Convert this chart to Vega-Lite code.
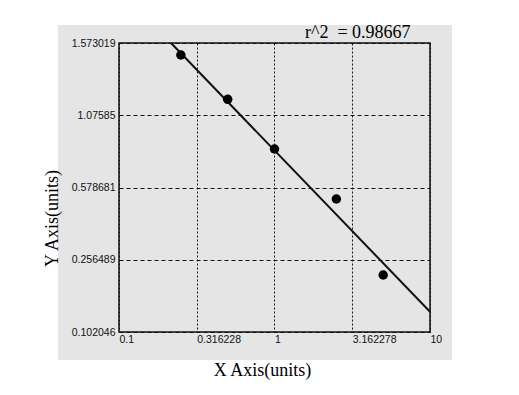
{
  "$schema": "https://vega.github.io/schema/vega-lite/v6.json",
  "width": 311,
  "height": 289,
  "autosize": "none",
  "padding": {"left": 119, "top": 43, "right": 89, "bottom": 63},
  "background": "white",
  "config": {"view": {"stroke": null}},
  "title": {
    "text": "r^2\u00a0 = 0.98667",
    "anchor": "start",
    "frame": "group",
    "dx": 186,
    "offset": -31,
    "baseline": "alphabetic",
    "font": "Liberation Serif",
    "fontSize": 18,
    "fontWeight": "normal",
    "color": "black"
  },
  "datasets": {
    "panel": [
      {"part": "background", "x1": 0.0405, "x2": 13.85, "y1": 0.0422, "y2": 1.6968},
      {"part": "frame", "x1": 0.1, "x2": 10, "y1": 0.102046, "y2": 1.573019}
    ],
    "points": [
      {"x": 0.25, "y": 1.4905},
      {"x": 0.5, "y": 1.1857},
      {"x": 1, "y": 0.8437},
      {"x": 2.5, "y": 0.5274},
      {"x": 5, "y": 0.2239}
    ],
    "fit": [
      {"x": 0.216, "y": 1.573019},
      {"x": 10, "y": 0.1454}
    ]
  },
  "layer": [
    {
      "data": {"name": "panel"},
      "transform": [{"filter": "datum.part === 'background'"}],
      "mark": {"type": "rect", "fill": "#e5e5e5", "clip": false},
      "encoding": {
        "x": {
          "field": "x1", "type": "quantitative",
          "scale": {"type": "log", "domain": [0.1, 10], "nice": false},
          "axis": {
            "values": [0.1, 0.316228, 1, 3.162278, 10],
            "labelExpr": "'' + datum.value",
            "title": "X Axis(units)",
            "grid": true, "gridDash": [2, 2], "gridColor": "#111", "gridOpacity": 1, "gridWidth": 1,
            "ticks": false, "domain": false,
            "labelAlign": "left", "labelBaseline": "top", "labelPadding": 2,
            "labelFont": "Liberation Sans", "labelFontSize": 10.5, "labelColor": "#111",
            "labelFlush": false, "labelOverlap": false, "labelBound": false,
            "titleFont": "Liberation Serif", "titleFontSize": 18, "titleFontWeight": "normal", "titleColor": "black",
            "titleX": 143, "titleY": 38, "titleBaseline": "middle", "titleAlign": "center",
            "zindex": 1
          }
        },
        "x2": {"field": "x2"},
        "y": {
          "field": "y1", "type": "quantitative",
          "scale": {
            "type": "linear",
            "domain": [0.102046, 0.256489, 0.578681, 1.07585, 1.573019],
            "range": [289, 216.75, 144.5, 72.25, 0],
            "nice": false, "zero": false
          },
          "axis": {
            "values": [0.102046, 0.256489, 0.578681, 1.07585, 1.573019],
            "labelExpr": "'' + datum.value",
            "title": "Y Axis(units)",
            "grid": true, "gridDash": [4, 3], "gridColor": "#111", "gridOpacity": 1, "gridWidth": 1,
            "ticks": false, "domain": false,
            "labelAlign": "right", "labelBaseline": "middle", "labelPadding": 4,
            "labelFont": "Liberation Sans", "labelFontSize": 10.5, "labelColor": "#111",
            "labelFlush": false, "labelOverlap": false, "labelBound": false,
            "titleFont": "Liberation Serif", "titleFontSize": 18, "titleFontWeight": "normal", "titleColor": "black",
            "titleX": -67, "titleY": 175, "titleBaseline": "middle", "titleAlign": "center", "titleAngle": -90,
            "zindex": 1
          }
        },
        "y2": {"field": "y2"}
      }
    },
    {
      "data": {"name": "panel"},
      "transform": [{"filter": "datum.part === 'frame'"}],
      "mark": {"type": "rect", "fillOpacity": 0, "stroke": "#111", "strokeWidth": 1.5, "clip": false},
      "encoding": {
        "x": {"field": "x1", "type": "quantitative"},
        "x2": {"field": "x2"},
        "y": {"field": "y1", "type": "quantitative"},
        "y2": {"field": "y2"}
      }
    },
    {
      "data": {"name": "fit"},
      "mark": {"type": "line", "color": "#111", "strokeWidth": 2},
      "encoding": {
        "x": {"field": "x", "type": "quantitative"},
        "y": {"field": "y", "type": "quantitative"}
      }
    },
    {
      "data": {"name": "points"},
      "mark": {"type": "circle", "color": "black", "opacity": 1, "size": 90},
      "encoding": {
        "x": {"field": "x", "type": "quantitative"},
        "y": {"field": "y", "type": "quantitative"}
      }
    }
  ]
}
